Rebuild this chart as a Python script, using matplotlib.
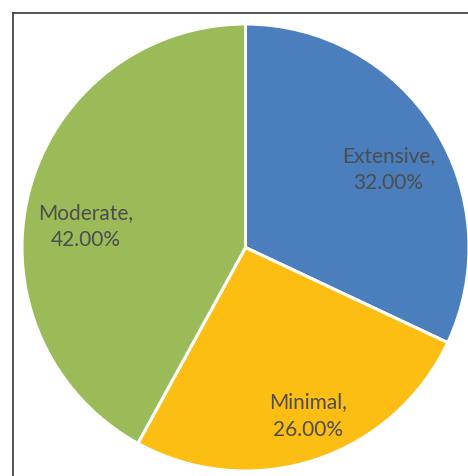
import numpy as np
import matplotlib
matplotlib.use("Agg")
import matplotlib.pyplot as plt

categories = ["Extensive", "Minimal", "Moderate"]
shares = [32.0, 26.0, 42.0]
colors = ["#4A7EBD", "#FDBE14", "#9BBB59"]

# label placement (fraction of radius, angle nudge in degrees) per slice
label_dist = [0.73, 0.80, 0.72]
label_nudge = [-3.5, 2.5, 6.5]

W, H = 468, 477
fig = plt.figure(figsize=(W / 100, H / 100), dpi=100)
ax = fig.add_axes([0, 0, 1, 1])

cx, cy, R = 245.5, H - 248.5, 223.5
wedges, _ = ax.pie(shares, colors=colors, startangle=90, counterclock=False,
                   center=(cx, cy), radius=R, frame=True,
                   wedgeprops=dict(edgecolor="white", linewidth=2.2))
ax.set_xlim(0, W)
ax.set_ylim(0, H)
ax.set_aspect("equal")
ax.axis("off")

for w, name, val, d, nd in zip(wedges, categories, shares, label_dist, label_nudge):
    th = np.deg2rad((w.theta1 + w.theta2) / 2 + nd)
    ax.text(cx + d * R * np.cos(th), cy + d * R * np.sin(th),
            f"{name},\n{val:.2f}%", ha="center", va="center",
            fontsize=15, color="#4d4d4d", family="Lato", linespacing=1.45)

# chart frame (top and left edges visible)
ax.plot([13, W], [H - 14, H - 14], color="#3a3a3a", linewidth=1.2, clip_on=False)
ax.plot([13, 13], [H - 14, 0], color="#3a3a3a", linewidth=1.2, clip_on=False)

fig.savefig("out.png", dpi=100)
